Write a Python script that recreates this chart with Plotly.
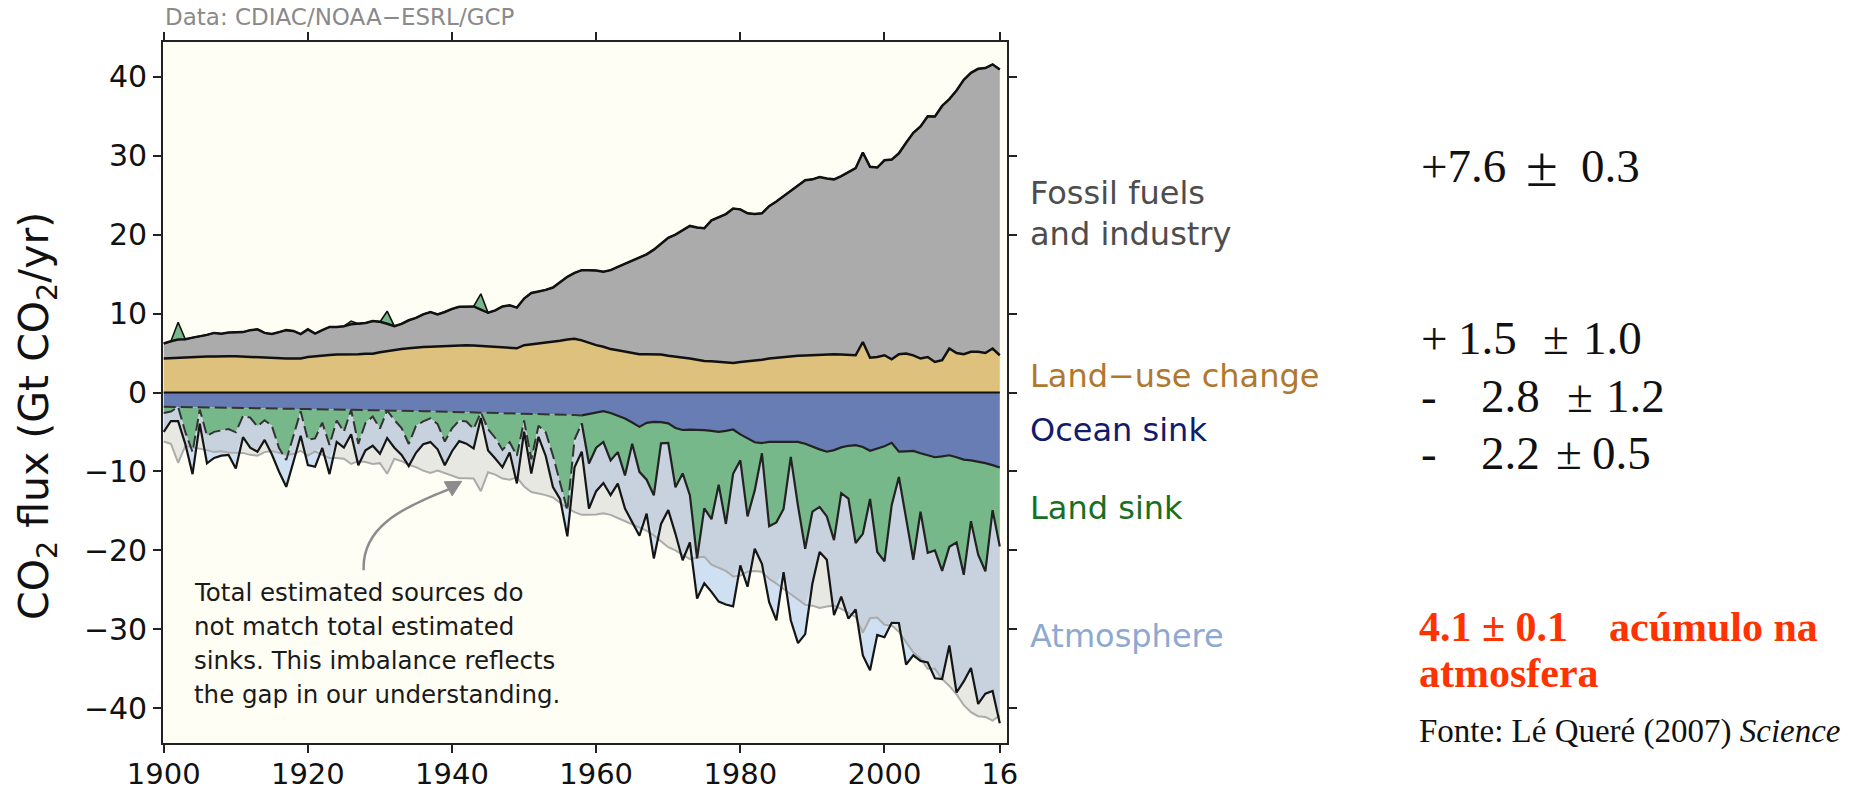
import numpy as np
import plotly.graph_objects as go

# ---------------- data (GtCO2/yr) ----------------
years = list(range(1900, 2017))

fossil_industry = [
    1.9, 2.15, 2.3, 2.3, 2.45, 2.6, 2.75, 3.0, 2.85, 3.0,
    3.05, 3.1, 3.4, 3.55, 3.15, 3.0, 3.3, 3.6, 3.5, 3.1,
    3.5, 2.85, 3.2, 3.55, 3.5, 3.6, 3.8, 3.85, 3.9, 4.15,
    3.85, 3.45, 3.0, 3.2, 3.55, 3.75, 4.15, 4.4, 4.05, 4.3,
    4.65, 4.85, 4.85, 4.95, 4.6, 4.25, 4.6, 5.15, 5.35, 5.15,
    5.9, 6.5, 6.6, 6.7, 6.9, 7.45, 7.95, 8.35, 8.9, 9.2,
    9.45, 9.5, 10.0, 10.55, 11.1, 11.7, 12.15, 12.65, 13.25, 14.1,
    14.95, 15.45, 16.1, 16.8, 16.75, 16.8, 17.85, 18.3, 18.8, 19.55,
    19.35, 18.75, 18.6, 18.55, 19.3, 19.8, 20.4, 20.9, 21.65, 22.2,
    22.25, 22.5, 22.25, 22.15, 22.6, 23.15, 23.7, 24.0, 24.2, 24.0,
    24.7, 25.3, 25.45, 26.7, 28.2, 29.4, 30.5, 31.1, 32.2, 31.6,
    33.25, 34.75, 35.35, 35.85, 36.1, 36.0, 36.2]

land_use_change = [
    4.3, 4.35, 4.4, 4.45, 4.5, 4.5, 4.55, 4.55, 4.6, 4.6,
    4.6, 4.55, 4.5, 4.45, 4.4, 4.4, 4.35, 4.3, 4.3, 4.3,
    4.5, 4.6, 4.7, 4.75, 4.8, 4.8, 4.85, 4.85, 4.9, 4.9,
    5.1, 5.25, 5.4, 5.5, 5.6, 5.7, 5.75, 5.8, 5.85, 5.9,
    5.95, 6.0, 6.0, 5.95, 5.9, 5.85, 5.8, 5.75, 5.7, 5.6,
    6.0, 6.1, 6.2, 6.3, 6.4, 6.55, 6.7, 6.8, 6.6, 6.3,
    6.0, 5.8, 5.5, 5.35, 5.2, 5.0, 4.85, 4.85, 4.85, 4.8,
    4.65, 4.55, 4.4, 4.3, 4.15, 4.0, 3.95, 3.9, 3.8, 3.75,
    3.85, 3.95, 4.0, 4.15, 4.3, 4.4, 4.5, 4.6, 4.65, 4.7,
    4.75, 4.8, 4.85, 4.85, 4.8, 4.75, 4.72, 6.4, 4.4, 4.5,
    4.72, 4.2, 4.85, 4.93, 4.7, 4.3, 4.5, 3.87, 4.1, 5.57,
    5.0, 4.85, 5.15, 5.15, 5.0, 5.57, 4.72]

ocean_sink = [
    1.80, 1.81, 1.82, 1.83, 1.84, 1.86, 1.87, 1.89, 1.90, 1.92,
    1.94, 1.96, 1.98, 2.00, 2.01, 2.02, 2.04, 2.05, 2.07, 2.08,
    2.10, 2.11, 2.12, 2.14, 2.15, 2.17, 2.19, 2.21, 2.23, 2.25,
    2.27, 2.28, 2.29, 2.30, 2.32, 2.34, 2.36, 2.38, 2.40, 2.42,
    2.44, 2.46, 2.48, 2.50, 2.52, 2.54, 2.56, 2.58, 2.60, 2.62,
    2.65, 2.68, 2.71, 2.74, 2.77, 2.80, 2.83, 2.86, 2.90, 2.70,
    2.50, 2.37, 2.60, 2.95, 3.30, 3.80, 4.35, 3.85, 3.72, 3.75,
    3.90, 4.50, 4.75, 4.70, 4.70, 4.77, 4.85, 4.98, 4.85, 4.69,
    5.30, 5.80, 6.30, 6.40, 6.25, 6.25, 6.25, 6.25, 6.25, 6.50,
    6.90, 7.20, 7.50, 7.30, 6.95, 6.75, 6.67, 6.90, 7.39, 7.10,
    6.80, 6.38, 7.50, 7.45, 7.39, 7.70, 8.00, 8.20, 8.10, 7.95,
    8.20, 8.50, 8.60, 8.75, 8.95, 9.20, 9.50]

# positive = sink, negative = land acting as a source
land_sink = [
    0.8, 0.6, -2.2, 3.2, 5.7, 0.3, 3.6, 3.1, 2.9, 2.7,
    3.1, 1.0, 1.2, 2.3, 1.5, 2.2, 5.0, 6.5, 3.4, 0.3,
    3.9, 3.7, 1.7, 4.5, 1.4, 2.8, -0.4, 4.3, 1.6, 0.8,
    2.3, -1.6, 1.2, 2.2, 4.2, 1.9, 1.3, 0.9, 1.6, 3.8,
    2.1, 1.1, 1.2, 2.1, -2.0, 2.1, 3.2, 4.7, 3.7, 5.4,
    0.9, 5.8, 1.5, 2.3, 5.2, 8.5, 12.1, 3.1, 1.0, 6.3,
    4.5, 3.9, 6.0, 4.6, 7.2, 2.7, 5.7, 7.2, 9.3, 2.7,
    2.5, 7.5, 5.5, 8.3, 16.3, 9.9, 11.2, 6.7, 11.8, 5.6,
    3.3, 9.9, 6.1, 1.3, 10.7, 10.2, 8.5, 1.9, 8.1, 13.3,
    8.2, 7.3, 8.2, 11.4, 5.8, 6.7, 12.4, 11.0, 6.1, 13.1,
    14.6, 7.9, 3.2, 8.3, 13.8, 7.4, 12.3, 11.8, 14.5, 11.6,
    10.8, 14.6, 7.7, 11.8, 13.7, 5.7, 10.0]

atmosphere = [
    2.4, 1.2, 1.8, 1.5, 2.8, 1.8, 3.5, 3.3, 3.2, 3.3,
    4.6, 2.7, 3.8, 3.2, 2.5, 3.6, 3.0, 3.4, 3.3, 3.1,
    3.2, 3.6, 3.2, 3.7, 2.7, 2.0, 3.1, 2.7, 3.5, 3.7,
    3.2, 3.5, 3.5, 3.4, 2.8, 3.4, 2.9, 3.0, 3.2, 3.0,
    2.9, 2.6, 2.8, 2.5, 0.7, 2.7, 2.6, 2.2, 1.3, 3.5,
    1.4, 1.8, 1.4, 3.0, 4.0, 2.2, 3.3, 3.5, 3.6, 5.7,
    5.5, 5.2, 4.4, 4.0, 4.2, 10.0, 8.1, 4.3, 8.0, 10.2,
    8.5, 5.9, 11.0, 6.0, 5.1, 9.5, 9.2, 14.8, 10.2, 16.8,
    13.3, 8.9, 7.4, 14.0, 9.6, 12.4, 8.0, 20.7, 17.4, 10.8,
    9.1, 5.7, 5.5, 9.5, 13.1, 15.2, 8.4, 15.4, 21.7, 10.5,
    9.6, 14.9, 18.5, 18.7, 12.1, 18.9, 13.9, 16.2, 13.7, 12.5,
    19.0, 13.5, 18.6, 18.9, 15.5, 22.9, 22.4]

x_tick_values = [1900, 1920, 1940, 1960, 1980, 2000, 2016]
x_tick_labels = ["1900", "1920", "1940", "1960", "1980", "2000", "16"]
y_tick_values = [-40, -30, -20, -10, 0, 10, 20, 30, 40]
last_smoothed_year = 1958

# ---------------- styling ----------------
C_FOSSIL = "#ABABAB"
C_LUC = "#DEC17D"
C_OCEAN = "#677DB4"
C_LAND = "#76B889"
C_ATM = "#C7D2DE"
C_ATM_EXCESS = "#CEE0F1"
C_IMBAL = "#E8E8E2"
C_BG = "#FFFEF4"
SANS = "DejaVu Sans"
SERIF = "Liberation Serif"

yrs = np.array(years)
ff = np.array(fossil_industry)
luc = np.array(land_use_change)
oc = np.array(ocean_sink)
ld = np.array(land_sink)
at = np.array(atmosphere)

land_as_sink = np.clip(ld, 0, None)
land_as_source = np.clip(-ld, 0, None)
sources = ff + luc + land_as_source
ocean_edge = -oc
land_edge = ocean_edge - land_as_sink
atm_edge = land_edge - at
mirror = -sources
upper_of_pair = np.maximum(atm_edge, mirror)

fig = go.Figure()

# sources (stacked upwards)
fig.add_trace(go.Scatter(x=yrs, y=luc, stackgroup="pos", fillcolor=C_LUC,
                         line=dict(color="#111111", width=2.5), hoverinfo="skip"))
fig.add_trace(go.Scatter(x=yrs, y=ff, stackgroup="pos", fillcolor=C_FOSSIL,
                         line=dict(color="#111111", width=2.5), hoverinfo="skip"))
fig.add_trace(go.Scatter(x=yrs, y=land_as_source, stackgroup="pos", fillcolor=C_LAND,
                         line=dict(color="#111111", width=1.6), hoverinfo="skip"))

# sinks (stacked downwards)
fig.add_trace(go.Scatter(x=yrs, y=-oc, stackgroup="neg", fillcolor=C_OCEAN,
                         line=dict(width=0), hoverinfo="skip"))
fig.add_trace(go.Scatter(x=yrs, y=-land_as_sink, stackgroup="neg", fillcolor=C_LAND,
                         line=dict(width=0), hoverinfo="skip"))
fig.add_trace(go.Scatter(x=yrs, y=-at, stackgroup="neg", fillcolor=C_ATM,
                         line=dict(width=0), hoverinfo="skip"))

# budget imbalance: sources larger than sinks (grey gap)
fig.add_trace(go.Scatter(x=yrs, y=mirror, mode="lines", line=dict(width=0), hoverinfo="skip"))
fig.add_trace(go.Scatter(x=yrs, y=upper_of_pair, mode="lines", fill="tonexty",
                         fillcolor=C_IMBAL, line=dict(width=0), hoverinfo="skip"))
# sinks larger than sources (light blue excess)
fig.add_trace(go.Scatter(x=yrs, y=upper_of_pair, mode="lines", line=dict(width=0), hoverinfo="skip"))
fig.add_trace(go.Scatter(x=yrs, y=atm_edge, mode="lines", fill="tonexty",
                         fillcolor=C_ATM_EXCESS, line=dict(width=0), hoverinfo="skip"))

# outlines
fig.add_trace(go.Scatter(x=yrs, y=mirror, mode="lines",
                         line=dict(color="#ABABAB", width=2), hoverinfo="skip"))
early = yrs <= last_smoothed_year
late = yrs >= last_smoothed_year
fig.add_trace(go.Scatter(x=yrs[early], y=ocean_edge[early], mode="lines",
                         line=dict(color="#333333", width=2, dash="12px,5px"), hoverinfo="skip"))
fig.add_trace(go.Scatter(x=yrs[late], y=ocean_edge[late], mode="lines",
                         line=dict(color="#222222", width=2.2), hoverinfo="skip"))
fig.add_trace(go.Scatter(x=yrs[early], y=land_edge[early], mode="lines",
                         line=dict(color="#333333", width=2, dash="12px,5px"), hoverinfo="skip"))
fig.add_trace(go.Scatter(x=yrs[late], y=land_edge[late], mode="lines",
                         line=dict(color="#222222", width=2.2), hoverinfo="skip"))
fig.add_trace(go.Scatter(x=yrs, y=atm_edge, mode="lines",
                         line=dict(color="#151515", width=2.2), hoverinfo="skip"))

fig.add_shape(type="line", xref="x", yref="y", x0=years[0], x1=years[-1], y0=0, y1=0,
              line=dict(color="#111111", width=2), layer="above")

axis_common = dict(ticks="outside", ticklen=8, tickwidth=1.5, tickcolor="#222222",
                   showline=True, linecolor="#222222", linewidth=1.6, mirror="allticks",
                   showgrid=False, zeroline=False)

fig.update_layout(
    width=1857, height=792,
    margin=dict(l=163, r=850, t=42, b=49, autoexpand=False),
    paper_bgcolor="white", plot_bgcolor=C_BG,
    showlegend=False,
    xaxis=dict(range=[1899.9, 2017.0], tickvals=x_tick_values, ticktext=x_tick_labels,
               ticklabelstandoff=-4,
               tickfont=dict(family=SANS, size=29, color="#111111"), **axis_common),
    yaxis=dict(range=[-44.4, 44.4], tickvals=y_tick_values,
               tickfont=dict(family=SANS, size=30, color="#111111"), **axis_common),
)

# pixel helpers for text placement
L, R, T, B = 163.3, 1007.3, 41.7, 742.7
def px(x):
    return (x - L) / (R - L)
def py(y):
    return (B - y) / (B - T)

def label(text, x, y, size, color, family=SANS, xanchor="left", **kw):
    fig.add_annotation(text=text, x=px(x), y=py(y), xref="paper", yref="paper",
                       xanchor=xanchor, yanchor="middle", showarrow=False,
                       font=dict(family=family, size=size, color=color), **kw)

label("CO<sub>2</sub> flux (Gt CO<sub>2</sub>/yr)", 38, 416, 41, "#111111",
      xanchor="center", textangle=-90)
label("Data: CDIAC/NOAA\u2212ESRL/GCP", 163, 17, 23, "#8A8A8A")

label("Fossil fuels", 1028, 193, 32, "#4D4D4D")
label("and industry", 1028, 234, 32, "#4D4D4D")
label("Land\u2212use change", 1028, 376, 32, "#B0782C")
label("Ocean sink", 1028, 430, 32, "#121A6B")
label("Land sink", 1028, 508, 32, "#17701F")
label("Atmosphere", 1028, 636, 32, "#8DA9D1")

for txt, yy in [("Total estimated sources do", 592),
                ("not match total estimated", 626),
                ("sinks. This imbalance reflects", 660),
                ("the gap in our understanding.", 694)]:
    label(txt, 192, yy, 24.5, "#1A1A1A")

# curved arrow pointing at the imbalance
fig.add_shape(type="path", xref="paper", yref="paper",
              path=f"M {px(364)},{py(570)} C {px(362)},{py(528)} {px(400)},{py(508)} {px(449)},{py(489)}",
              line=dict(color="#8C8C8C", width=2.5))
fig.add_shape(type="path", xref="paper", yref="paper",
              path=(f"M {px(462)},{py(481)} L {px(452.5)},{py(495.5)} "
                    f"L {px(444.5)},{py(481.5)} Z"),
              fillcolor="#8C8C8C", line=dict(color="#8C8C8C", width=1))

# slide text on the right
K = "#111111"
for txt, x, y, s in [("+7.6", 1419, 166, 47), ("\u00b1", 1524, 166, 58), ("0.3", 1579, 166, 47),
                     ("+", 1419, 338, 47), ("1.5", 1456, 338, 47), ("\u00b1", 1541, 338, 47), ("1.0", 1581, 338, 47),
                     ("-", 1419, 396, 47), ("2.8", 1479, 396, 47), ("\u00b1", 1565, 396, 47), ("1.2", 1604, 396, 47),
                     ("-", 1419, 453, 47), ("2.2", 1479, 453, 47), ("\u00b1", 1554, 453, 47), ("0.5", 1590, 453, 47)]:
    label(txt, x, y, s, K, family=SERIF)

RED = "#FF3300"
label("<b>4.1 \u00b1 0.1</b>", 1417, 627, 42, RED, family=SERIF)
label("<b>ac\u00famulo na</b>", 1607, 627, 42, RED, family=SERIF)
label("<b>atmosfera</b>", 1417, 673, 42, RED, family=SERIF)
label("Fonte: L\u00e9 Quer\u00e9 (2007) <i>Science</i>", 1417, 731, 33, K, family=SERIF)

fig.write_html("out.html", config={"displayModeBar": False},
               post_script="document.body.style.margin='0px';")
